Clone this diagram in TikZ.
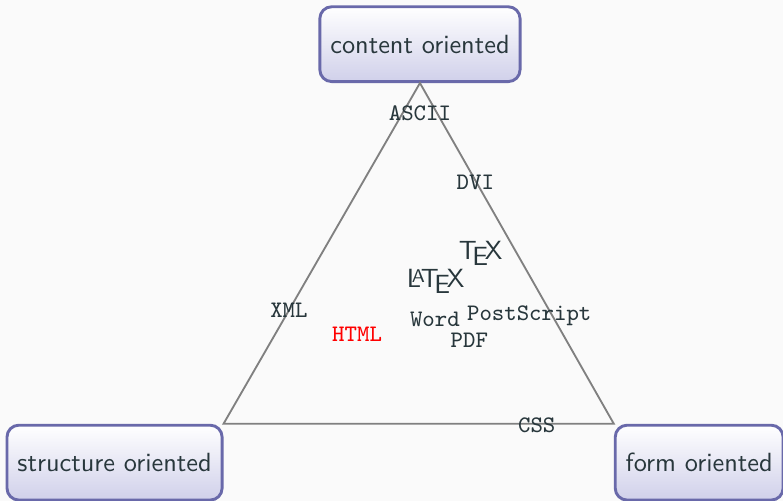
\documentclass[tikz,border=0pt]{standalone}
\usepackage{amssymb}
\usepackage{amsmath}
\usepackage{tikz}
\usetikzlibrary{positioning}

\definecolor{textgray}{RGB}{40,55,60}
\definecolor{boxborder}{RGB}{105,105,170}
\definecolor{boxbottom}{RGB}{208,208,234}
\definecolor{bggray}{RGB}{250,250,250}

\tikzset{
	corner/.style={draw=boxborder, line width=1.1pt, rounded corners=4.5pt, top color=white, bottom color=boxbottom, text=textgray, font=\sffamily, inner xsep=0.14cm, minimum height=1.0cm},
	fmt/.style={text=textgray, font=\small\ttfamily, inner sep=1pt},
	logo/.style={text=textgray, font=\sffamily, inner sep=0pt}
}

\begin{document}
\begin{tikzpicture}
			\fill[bggray] (0,0) rectangle (10.46,-6.69);
			\useasboundingbox (0,0) rectangle (10.46,-6.69);
			\begin{scope}
				\node[corner] (content) at (5.61,-0.59) {content oriented};
				\node[corner] (structure) at (1.53,-6.18) {structure oriented};
				\node[corner] (form) at (9.34,-6.18) {form oriented};

				\draw[gray, line width=0.7pt] (content.south) -- (structure.north east) -- (form.north west) -- cycle; % triangolo

				\node[fmt] (ascii) at (5.61,-1.51) {ASCII};
				\node[fmt] (dvi) at (6.35,-2.43) {DVI};
				\node[logo] (tex) at (6.42,-3.38) {\TeX};
				\node[logo] (latex) at (5.82,-3.76) {\LaTeX};
				\node[fmt] (xml) at (3.86,-4.15) {XML};
				\node[fmt, text=red] (html) at (4.77,-4.46) {HTML};
				\node[fmt] (word) at (5.81,-4.27) {Word};
				\node[fmt] (ps) at (7.07,-4.22) {PostScript};
				\node[fmt] (pdf) at (6.27,-4.54) {PDF};
				\node[fmt] (css) at (7.17,-5.68) {CSS};
			\end{scope}
		\end{tikzpicture}
\end{document}
